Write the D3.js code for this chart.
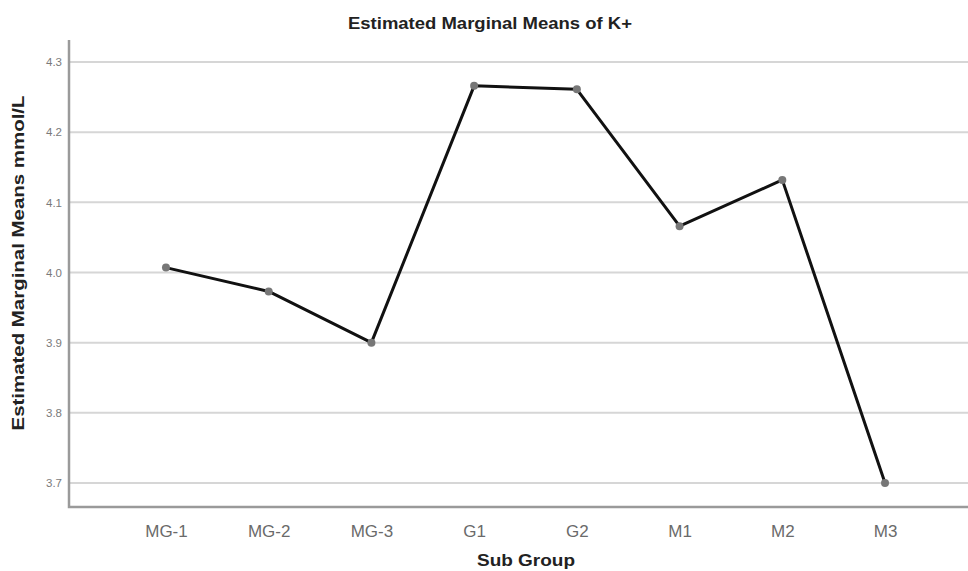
<!DOCTYPE html>
<html>
<head>
<meta charset="utf-8">
<script src="https://cdn.jsdelivr.net/npm/d3@7"></script>
<style>
  html, body { margin: 0; padding: 0; background: #fff; }
  svg { display: block; font-family: "Liberation Sans", Arial, sans-serif; }
</style>
</head>
<body>
<svg id="chart" width="968" height="571"></svg>
<script>
// Estimated marginal means of K+ per sub group (mmol/L)
const subGroups = ["MG-1", "MG-2", "MG-3", "G1", "G2", "M1", "M2", "M3"];
const meanK = [4.007, 3.973, 3.900, 4.266, 4.261, 4.066, 4.132, 3.700];
const yTicks = [3.7, 3.8, 3.9, 4.0, 4.1, 4.2, 4.3];

const svg = d3.select("#chart");
const W = 968, H = 571;
const plotLeft = 69, plotTop = 40, plotBottom = 507;

const x = d3.scalePoint()
  .domain(subGroups)
  .range([plotLeft, 982])
  .padding(0.944);

const y = d3.scaleLinear()
  .domain([3.7, 4.3])
  .range([483, 62]);

// horizontal grid lines
svg.append("g")
  .selectAll("line")
  .data(yTicks)
  .join("line")
  .attr("x1", plotLeft)
  .attr("x2", W)
  .attr("y1", d => y(d))
  .attr("y2", d => y(d))
  .attr("stroke", "#d6d6d6")
  .attr("stroke-width", 2);

// y axis
const yAxis = svg.append("g")
  .attr("transform", `translate(${plotLeft},0)`)
  .call(d3.axisLeft(y).tickValues(yTicks).tickFormat(d3.format(".1f")).tickSize(0).tickPadding(7));
yAxis.select(".domain").remove();
yAxis.selectAll("text")
  .attr("fill", "#7a7a7a")
  .attr("font-size", 11.5)
  .attr("font-family", "'Liberation Sans', Arial, sans-serif");

// x axis
const xAxis = svg.append("g")
  .attr("transform", `translate(0,${plotBottom})`)
  .call(d3.axisBottom(x).tickSize(0).tickPadding(18));
xAxis.select(".domain").remove();
xAxis.selectAll("text")
  .attr("fill", "#6a6a6a")
  .attr("font-size", 17)
  .attr("font-family", "'Liberation Sans', Arial, sans-serif");

// axis frame lines
svg.append("path")
  .attr("d", `M${plotLeft},${plotTop}V${plotBottom}H${W}`)
  .attr("fill", "none")
  .attr("stroke", "#9a9a9a")
  .attr("stroke-width", 2.5);

// mean line
const line = d3.line()
  .x((d, i) => x(subGroups[i]))
  .y(d => y(d));

svg.append("path")
  .datum(meanK)
  .attr("d", line)
  .attr("fill", "none")
  .attr("stroke", "#111")
  .attr("stroke-width", 3)
  .attr("stroke-linejoin", "round");

svg.append("g")
  .selectAll("circle")
  .data(meanK)
  .join("circle")
  .attr("cx", (d, i) => x(subGroups[i]))
  .attr("cy", d => y(d))
  .attr("r", 4)
  .attr("fill", "#777");

// titles
svg.append("text")
  .attr("x", 490)
  .attr("y", 29)
  .attr("text-anchor", "middle")
  .attr("font-size", 16)
  .attr("font-weight", "bold")
  .attr("fill", "#222")
  .attr("textLength", 284)
  .attr("lengthAdjust", "spacingAndGlyphs")
  .text("Estimated Marginal Means of K+");

svg.append("text")
  .attr("x", 526)
  .attr("y", 566)
  .attr("text-anchor", "middle")
  .attr("font-size", 17)
  .attr("font-weight", "bold")
  .attr("fill", "#222")
  .attr("textLength", 98)
  .attr("lengthAdjust", "spacingAndGlyphs")
  .text("Sub Group");

svg.append("text")
  .attr("transform", "translate(24,263) rotate(-90)")
  .attr("text-anchor", "middle")
  .attr("font-size", 17)
  .attr("font-weight", "bold")
  .attr("fill", "#222")
  .attr("textLength", 335)
  .attr("lengthAdjust", "spacingAndGlyphs")
  .text("Estimated Marginal Means mmol/L");
</script>
</body>
</html>
